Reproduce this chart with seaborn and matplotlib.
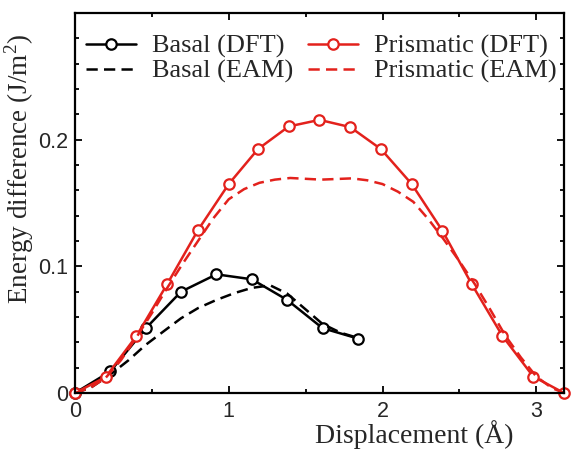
import numpy as np
import pandas as pd
import matplotlib
matplotlib.use("Agg")
import matplotlib.pyplot as plt
import seaborn as sns
from matplotlib.ticker import FixedLocator, MultipleLocator

# -----------------------------
# data
# -----------------------------
basal_dft_x = [0, 0.23, 0.46, 0.69, 0.92, 1.15, 1.38, 1.61, 1.84]
basal_dft_y = [0, 0.017, 0.051, 0.080, 0.0937, 0.0898, 0.0735, 0.0512, 0.043]

basal_eam_x = [0, 0.1, 0.23, 0.35, 0.46, 0.58, 0.69, 0.8, 0.92, 1.04, 1.15, 1.27,
               1.38, 1.5, 1.61, 1.73, 1.84]
basal_eam_y = [0, 0.004, 0.0145, 0.026, 0.038, 0.049, 0.059, 0.067, 0.0735, 0.079,
               0.083, 0.085, 0.0785, 0.066, 0.0545, 0.0475, 0.0435]

prism_dft_x = [0, 0.2, 0.4, 0.6, 0.8, 1.0, 1.19, 1.39, 1.59, 1.79, 1.99, 2.19,
               2.39, 2.58, 2.78, 2.98, 3.18]
prism_dft_y = [0, 0.0126, 0.045, 0.086, 0.1286, 0.165, 0.1926, 0.2105, 0.2157,
               0.2100, 0.1926, 0.165, 0.128, 0.086, 0.045, 0.013, 0]

prism_eam_x = [0, 0.1, 0.2, 0.3, 0.4, 0.5, 0.6, 0.7, 0.8, 0.9, 1.0, 1.1, 1.2, 1.3,
               1.4, 1.6, 1.8, 1.9, 2.0, 2.1, 2.2, 2.3, 2.4, 2.5, 2.6, 2.7, 2.8,
               2.9, 3.0, 3.1, 3.18]
prism_eam_y = [0, 0.004, 0.012, 0.026, 0.044, 0.063, 0.083, 0.102, 0.120, 0.138,
               0.153, 0.161, 0.166, 0.1685, 0.1698, 0.1685, 0.1695, 0.168, 0.165,
               0.159, 0.151, 0.137, 0.121, 0.104, 0.086, 0.066, 0.045, 0.028,
               0.013, 0.004, 0]

x_ticks = [0, 1, 2, 3]
y_ticks = [0, 0.1, 0.2]
y_tick_labels = ["0", "0.1", "0.2"]

red = "#e3211c"

sns.set_style("ticks")
plt.rcParams["font.family"] = ["Liberation Sans", "DejaVu Sans"]
plt.rcParams["mathtext.fontset"] = "custom"
plt.rcParams["mathtext.rm"] = "Liberation Serif"

fig = plt.figure(figsize=(5.72, 4.53), dpi=100)
ax = fig.add_axes([0.131, 0.1325, 0.855, 0.8385])

series = [
    ("Basal (DFT)", basal_dft_x, basal_dft_y, "black", "-", True),
    ("Basal (EAM)", basal_eam_x, basal_eam_y, "black", "--", False),
    ("Prismatic (DFT)", prism_dft_x, prism_dft_y, red, "-", True),
    ("Prismatic (EAM)", prism_eam_x, prism_eam_y, red, "--", False),
]

for name, xs, ys, col, ls, mark in series:
    df = pd.DataFrame({"x": xs, "y": ys})
    kw = dict(marker="o", markersize=7.5, markerfacecolor="white",
              markeredgecolor=col, markeredgewidth=1.6) if mark else {}
    if ls == "--":
        kw["dashes"] = (4.5, 2.5)
    sns.lineplot(data=df, x="x", y="y", ax=ax, color=col, linewidth=1.8,
                 label=name, sort=False, estimator=None, clip_on=False, **kw)

ax.set_xlim(0, 3.18)
ax.set_ylim(0, 0.3)
ax.xaxis.set_major_locator(FixedLocator(x_ticks))
ax.xaxis.set_minor_locator(MultipleLocator(0.5))
ax.yaxis.set_major_locator(FixedLocator(y_ticks))
ax.yaxis.set_minor_locator(MultipleLocator(0.02))
ax.set_yticklabels(y_tick_labels)
ax.tick_params(which="both", direction="in", top=True, right=True,
               labelsize=15.5, width=1.3, color="black")
ax.tick_params(which="major", length=5, pad=5)
ax.tick_params(axis="x", which="major", pad=6)
ax.tick_params(which="minor", length=3)
for sp in ax.spines.values():
    sp.set_linewidth(1.6)
    sp.set_color("black")

ax.set_xlabel("Displacement (Å)", family="Liberation Serif", fontsize=20)
ax.set_ylabel(r"Energy difference (J/m$^{2}$)", family="Liberation Serif", fontsize=19.5)
ax.xaxis.set_label_coords(0.693, -0.072)
ax.yaxis.set_label_coords(-0.08, 0.589)

handles, labels = ax.get_legend_handles_labels()
ax.legend(handles, labels, ncol=2, loc="upper left", bbox_to_anchor=(0.012, 0.958),
          frameon=False, prop={"family": "Liberation Serif", "size": 19},
          handlelength=1.9, handletextpad=0.6, columnspacing=0.55,
          labelspacing=0.05, borderpad=0.2, borderaxespad=0)

fig.savefig("out.png", dpi=100)
